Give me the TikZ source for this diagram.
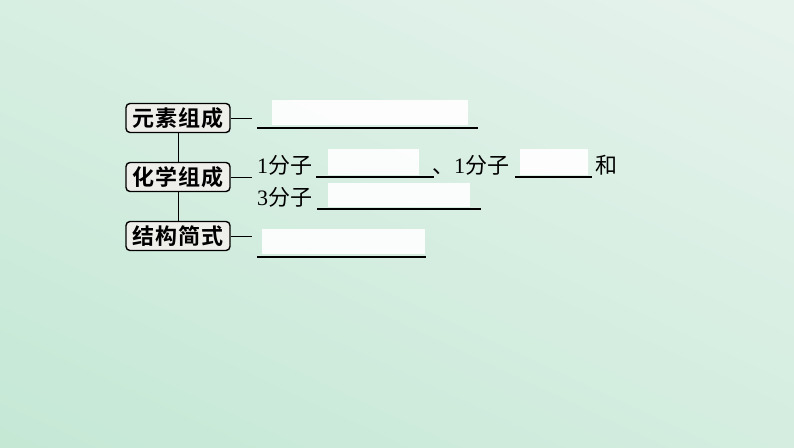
\documentclass[tikz,border=0pt]{standalone}
\usepackage{fontspec}
\setmainfont{Liberation Serif}
\newfontfamily\cjk{Noto Sans CJK SC}
\newfontfamily\cjkb{Noto Sans CJK SC}[BoldFont={Noto Sans CJK SC Bold}]
\definecolor{bgtop}{HTML}{E9F4EF}
\definecolor{bgmid}{HTML}{D6EEE2}
\definecolor{bgbot}{HTML}{C2E7D3}
\definecolor{boxfill}{HTML}{EEEFEA}
\begin{document}
\begin{tikzpicture}[x=1pt,y=-1pt,
  catbox/.style={draw=black,line width=1.4pt,rounded corners=4pt,fill=boxfill,
    minimum width=104pt,minimum height=29pt,inner sep=0pt,
    font=\cjkb\bfseries\fontsize{22}{22}\selectfont},
  txt/.style={anchor=base west,inner sep=0pt,font=\fontsize{22}{22}\selectfont},
  conn/.style={line width=1pt},
  uline/.style={line width=1.4pt},
  blank/.style={fill=white,opacity=0.92}]
\useasboundingbox (0,0) rectangle (794,447);
\shade[top color=bgtop,middle color=bgmid,bottom color=bgbot,shading angle=-25] (-150,-150) rectangle (944,597);
% boxes
\node[catbox] (b1) at (178,118) {元\kern1pt素\kern1pt组\kern1pt成};
\node[catbox] (b2) at (178,177) {化\kern1pt学\kern1pt组\kern1pt成};
\node[catbox] (b3) at (178,236) {结\kern1pt构\kern1pt简\kern1pt式};
\draw[conn] (b1.south) -- (b2.north);
\draw[conn] (b2.south) -- (b3.north);
\coordinate (e1) at (252,118);
\coordinate (e2) at (252,177);
\coordinate (e3) at (252,236);
\draw[conn] (b1.east) -- (e1);
\draw[conn] (b2.east) -- (e2);
\draw[conn] (b3.east) -- (e3);
% blanks
\fill[blank] (272,100) rectangle (468,125);
\fill[blank] (328,149) rectangle (419,175);
\fill[blank] (520,149) rectangle (588,175);
\fill[blank] (328,183) rectangle (470,207);
\fill[blank] (262,229) rectangle (425,254);
% underlines
\draw[uline] (257,128) -- (478,128);
\draw[uline] (316,177) -- (434,177);
\draw[uline] (515,177) -- (592,177);
\draw[uline] (317,209) -- (481,209);
\draw[uline] (257,257) -- (426,257);
% texts
\node[txt] (t1) at (257,173) {1{\cjk 分子}};
\node[txt] (t2) at (432,173) {{\cjk 、}1{\cjk 分子}};
\node[txt] (t3) at (595,173) {{\cjk 和}};
\node[txt] (t4) at (257,205) {3{\cjk 分子}};
\end{tikzpicture}
\end{document}
